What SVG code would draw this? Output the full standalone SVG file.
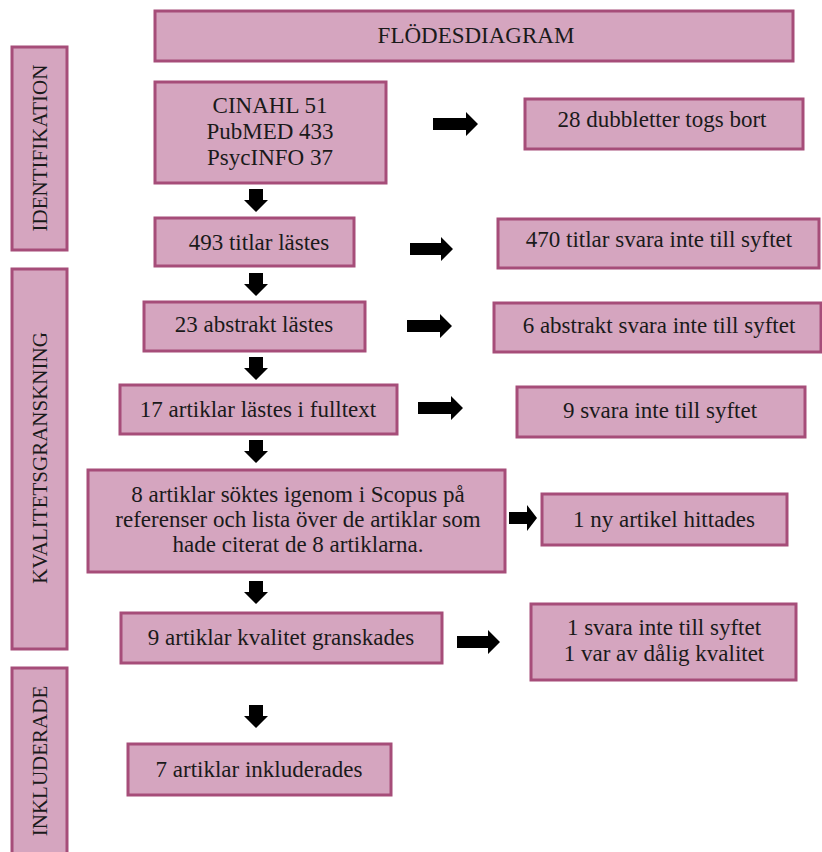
<svg xmlns="http://www.w3.org/2000/svg" width="822" height="852" viewBox="0 0 822 852">
<style>
.box{fill:#d5a5bf;stroke:#a64d79;stroke-width:3}
text{font-family:"Liberation Serif",serif;fill:#1a1a1a;text-anchor:middle}
.t{font-size:23px}
.v{font-size:21px}
.arr{fill:#000}
</style>
<rect width="822" height="852" fill="#fff"/>
<g id="title"><rect class="box" x="155" y="11" width="638" height="50"/><text class="t" x="476" y="43">FLÖDESDIAGRAM</text></g>
<g id="phase-identifikation"><rect class="box" x="12" y="47" width="55" height="203"/><text class="v" transform="translate(47,148) rotate(-90)">IDENTIFIKATION</text></g>
<g id="phase-kvalitetsgranskning"><rect class="box" x="12" y="269" width="55" height="380"/><text class="v" transform="translate(47,458) rotate(-90)">KVALITETSGRANSKNING</text></g>
<g id="phase-inkluderade"><rect class="box" x="12" y="668" width="55" height="192"/><text class="v" transform="translate(47,761) rotate(-90)">INKLUDERADE</text></g>
<g id="databases"><rect class="box" x="155" y="82" width="231" height="101"/><text class="t" x="270" y="113">CINAHL 51</text><text class="t" x="270" y="139">PubMED 433</text><text class="t" x="270" y="165">PsycINFO 37</text></g>
<g id="titles"><rect class="box" x="155" y="218" width="199" height="48"/><text class="t" x="259" y="250">493 titlar lästes</text></g>
<g id="abstracts"><rect class="box" x="144" y="302" width="221" height="49"/><text class="t" x="254" y="332">23 abstrakt lästes</text></g>
<g id="fulltext"><rect class="box" x="120" y="385" width="277" height="49"/><text class="t" x="258" y="417">17 artiklar lästes i fulltext</text></g>
<g id="scopus"><rect class="box" x="88" y="470" width="417" height="102"/><text class="t" x="298" y="502">8 artiklar söktes igenom i Scopus på</text><text class="t" x="298" y="527">referenser och lista över de artiklar som</text><text class="t" x="298" y="552">hade citerat de 8 artiklarna.</text></g>
<g id="quality"><rect class="box" x="121" y="613" width="321" height="50"/><text class="t" x="281" y="645">9 artiklar kvalitet granskades</text></g>
<g id="included"><rect class="box" x="128" y="744" width="263" height="51"/><text class="t" x="259" y="777">7 artiklar inkluderades</text></g>
<g id="duplicates"><rect class="box" x="525" y="99" width="278" height="50"/><text class="t" x="662" y="127">28 dubbletter togs bort</text></g>
<g id="titles-excluded"><rect class="box" x="498" y="219" width="321" height="49"/><text class="t" x="659" y="247">470 titlar svara inte till syftet</text></g>
<g id="abstracts-excluded"><rect class="box" x="494" y="303" width="327" height="49"/><text class="t" x="659" y="333">6 abstrakt svara inte till syftet</text></g>
<g id="fulltext-excluded"><rect class="box" x="517" y="387" width="288" height="50"/><text class="t" x="660" y="418">9 svara inte till syftet</text></g>
<g id="new-article"><rect class="box" x="542" y="494" width="245" height="51"/><text class="t" x="664" y="527">1 ny artikel hittades</text></g>
<g id="quality-excluded"><rect class="box" x="531" y="604" width="265" height="76"/><text class="t" x="664" y="635">1 svara inte till syftet</text><text class="t" x="664" y="661">1 var av dålig kvalitet</text></g>
<g id="connectors">
<path class="arr" d="M249,189 h14 v11 h5 l-12,12 l-12,-12 h5 z"/>
<path class="arr" d="M249,273 h14 v11 h5 l-12,12 l-12,-12 h5 z"/>
<path class="arr" d="M249,357 h14 v11 h5 l-12,12 l-12,-12 h5 z"/>
<path class="arr" d="M249,440 h14 v11 h5 l-12,12 l-12,-12 h5 z"/>
<path class="arr" d="M249,581 h14 v11 h5 l-12,12 l-12,-12 h5 z"/>
<path class="arr" d="M249,705 h14 v11 h5 l-12,12 l-12,-12 h5 z"/>
<path class="arr" d="M433,118 h33 v-6 l12,12 l-12,12 v-6 h-33 z"/>
<path class="arr" d="M410,243 h31 v-6 l12,12 l-12,12 v-6 h-31 z"/>
<path class="arr" d="M407,320 h33 v-6 l12,12 l-12,12 v-6 h-33 z"/>
<path class="arr" d="M418,402 h33 v-6 l12,12 l-12,12 v-6 h-33 z"/>
<path class="arr" d="M509,512 h18 v-7 l10,13 l-10,13 v-7 h-18 z"/>
<path class="arr" d="M457,636 h31 v-6 l12,12 l-12,12 v-6 h-31 z"/>
</g>
</svg>
